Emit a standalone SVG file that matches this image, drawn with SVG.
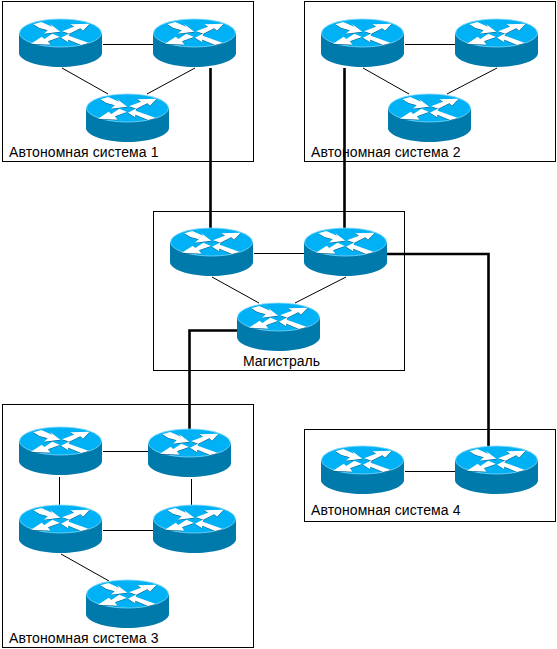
<svg xmlns="http://www.w3.org/2000/svg" width="557" height="649" viewBox="0 0 557 649">
<style>
.box{fill:#fff;stroke:#000;stroke-width:1}
.lbl{font-family:"Liberation Sans",Arial,sans-serif;font-size:14px;fill:#000}
.as{letter-spacing:.1px}
.thin{fill:none;stroke:#000;stroke-width:1}
.thick{fill:none;stroke:#000;stroke-width:2.6}
</style>
<defs>
<g id="arrows" transform="translate(-19 -19) scale(.3333)">
<polygon points="100,73 124,66 156,80 150,72 181,95 132,101 143,91 118,84"/>
<polygon points="186,94 222,80 211,73 269,71 249,92 241,85 208,101"/>
<polygon points="93,131 125,110 133,117 157,101 180,111 144,124 151,134"/>
<polygon points="183,113 209,100 206,107 267,129 243,135 205,119 204,127"/>
</g>
<g id="router">
<path d="M0 14V34C0 41.500 18.500 48 41.500 48S83 41.500 83 34V14Z" fill="#0079ab"/>
<ellipse cx="41.500" cy="14" rx="41" ry="14" fill="#00b2f5" stroke="#80d8fa" stroke-width="0.8"/>
<use href="#arrows" y="0.500" fill="#004f75"/>
<use href="#arrows" fill="#fff"/>
</g>
</defs>
<g id="as1"><rect class="box" x="2.500" y="1.500" width="251" height="160"/><text class="lbl as" x="9" y="157">Автономная система 1</text></g>
<g id="as2"><rect class="box" x="304.500" y="1.500" width="251" height="160"/><text class="lbl as" x="311" y="157">Автономная система 2</text></g>
<g id="backbone"><rect class="box" x="153.500" y="211.500" width="251" height="159"/><text class="lbl" x="243" y="366">Магистраль</text></g>
<g id="as3"><rect class="box" x="2.500" y="404.500" width="251" height="243"/><text class="lbl as" x="9" y="643">Автономная система 3</text></g>
<g id="as4"><rect class="box" x="304.500" y="429.500" width="251" height="92"/><text class="lbl as" x="311" y="515">Автономная система 4</text></g>
<g id="connectors">
<path class="thin" d="M103 44.500H153M62 68L108 94M195 68L147 94"/>
<path class="thin" d="M405 44.500H455M363 68L409 94M497 68L447 94"/>
<path class="thin" d="M254 253.500H304M212 277L259 303M346 277L295 303"/>
<path class="thin" d="M103 451.500H148M59.500 477V505M191.500 479V505M103 530.500H153M61 554L109 581"/>
<path class="thin" d="M405 471.500H455"/>
<path class="thick" d="M210.500 68V229M344.500 68V229M387 254H488.500V447M237 330.500H189.500V430"/>
</g>
<g id="r1"><use href="#router" x="19" y="19"/></g>
<g id="r2"><use href="#router" x="153" y="19"/></g>
<g id="r3"><use href="#router" x="86" y="94"/></g>
<g id="r4"><use href="#router" x="321" y="19"/></g>
<g id="r5"><use href="#router" x="455" y="19"/></g>
<g id="r6"><use href="#router" x="388" y="94"/></g>
<g id="r7"><use href="#router" x="170" y="228"/></g>
<g id="r8"><use href="#router" x="304" y="228"/></g>
<g id="r9"><use href="#router" x="237" y="303"/></g>
<g id="r10"><use href="#router" x="19" y="427"/></g>
<g id="r11"><use href="#router" x="148" y="429"/></g>
<g id="r12"><use href="#router" x="19" y="505"/></g>
<g id="r13"><use href="#router" x="153" y="505"/></g>
<g id="r14"><use href="#router" x="86" y="580"/></g>
<g id="r15"><use href="#router" x="321" y="446"/></g>
<g id="r16"><use href="#router" x="455" y="446"/></g>
</svg>
